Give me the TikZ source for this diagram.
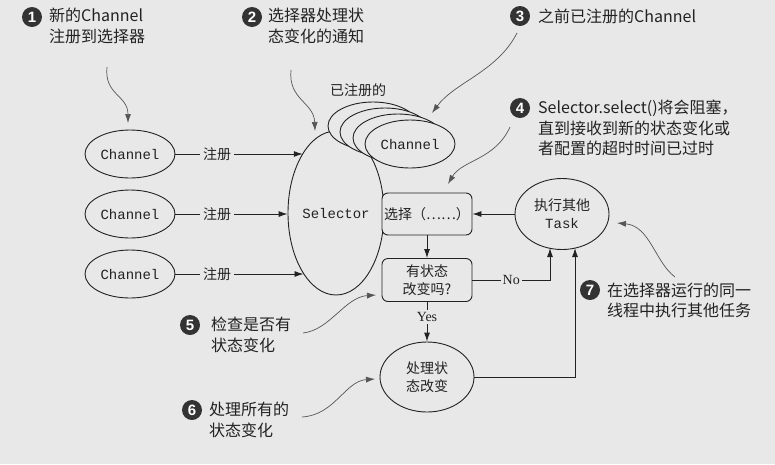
\documentclass[tikz,border=0pt]{standalone}
\usepackage{fontspec}
\setmainfont{Liberation Serif}
\newfontfamily\cjk{Noto Sans CJK SC}
\newfontfamily\mono{Liberation Mono}
\newfontfamily\bsans{Liberation Sans}
\usetikzlibrary{shapes.geometric,arrows.meta}
\definecolor{bg}{HTML}{E8E8E8}
\definecolor{ink}{HTML}{222222}
\definecolor{annot}{HTML}{555555}
\definecolor{bullet}{HTML}{333333}
\begin{document}
\begin{tikzpicture}[x=1pt,y=-1pt,
  line/.style={draw=ink,line width=0.9pt},
  arr/.style={line,-{Latex[length=9pt,width=6pt]}},
  curvearr/.style={draw=annot,line width=0.7pt,-{Latex[length=9pt,width=6pt]}},
  chan/.style={ellipse,draw=ink,line width=0.9pt,fill=bg,minimum width=90,minimum height=48,inner sep=0pt,text=ink,font=\mono\fontsize{14}{16}\selectfont},
  regl/.style={fill=bg,inner sep=3pt,text=ink,font=\cjk\fontsize{14}{16}\selectfont},
  box/.style={draw=ink,line width=0.9pt,fill=bg,rounded corners=6pt,minimum width=90,inner sep=0pt,text=ink,align=center},
  oval/.style={ellipse,draw=ink,line width=0.9pt,fill=bg,minimum width=94,minimum height=71,inner sep=0pt,text=ink,align=center},
  bul/.style={circle,fill=bullet,text=white,minimum size=20,inner sep=0pt,font=\bsans\bfseries\fontsize{15}{15}\selectfont},
  note/.style={anchor=west,align=left,inner sep=0pt,text=ink,font=\cjk\fontsize{16}{20.5}\selectfont},
  yn/.style={fill=bg,inner sep=2pt,text=ink,font=\fontsize{14}{16}\selectfont}
]
\path[fill=bg] (0,0) rectangle (775,464);
\useasboundingbox (0,0) rectangle (775,464);

% Selector
\node[ellipse,draw=ink,line width=0.9pt,minimum width=96,minimum height=164,inner sep=0pt,text=ink,font=\mono\fontsize{14}{16}\selectfont] (sel) at (336,213) {Selector};

% registered stack
\node[chan] (rg1) at (373,126) {};
\node[chan] (rg2) at (385,132) {};
\node[chan] (rg3) at (398,138) {};
\node[chan] (rg4) at (410,144) {Channel};
\node[text=ink,font=\cjk\fontsize{14}{16}\selectfont] (reglab) at (358,90) {已注册的};

% channels
\node[chan] (c1) at (130,154) {Channel};
\node[chan] (c2) at (130,214) {Channel};
\node[chan] (c3) at (130,274) {Channel};
\node[regl] (r1) at (217,154) {注册};
\node[regl] (r2) at (217,214) {注册};
\node[regl] (r3) at (217,274) {注册};
\draw[line] (c1) -- (r1);
\draw[line] (c2) -- (r2);
\draw[line] (c3) -- (r3);
\draw[arr] (r1) -- (r1 -| sel.119.4);
\draw[arr] (r2) -- (r2 -| sel.west);
\draw[arr] (r3) -- (r3 -| sel.242.2);

% flow
\node[box,minimum height=42,font=\cjk\fontsize{14}{16}\selectfont] (selb) at (427,214) {选择（……）};
\node[box,minimum height=43,font=\cjk\fontsize{14}{17.5}\selectfont] (chk) at (427,280) {有状态\\改变吗?};
\node[oval,font=\cjk\fontsize{14}{18}\selectfont] (task) at (562,214) {执行其他\\{\mono Task}};
\node[oval,minimum height=70,font=\cjk\fontsize{14}{18}\selectfont] (proc) at (427,377) {处理状\\态改变};
\coordinate (tk1) at (550,248);
\coordinate (tk2) at (575,248);

\draw[arr] (task) -- (selb);
\draw[arr] (selb) -- (chk);
\draw[arr] (chk.east) -| node[yn,pos=0.25] {No} (tk1);
\draw[arr] (chk) -- node[yn,pos=0.38] {Yes} (proc);
\draw[arr] (proc.east) -| (tk2);

% annotations
\node[bul] (b1) at (32,17) {1};
\node[note] (n1) at (49,26) {新的Channel\\注册到选择器};
\node[bul] (b2) at (252,17) {2};
\node[note] (n2) at (268,26) {选择器处理状\\态变化的通知};
\node[bul] (b3) at (520,16) {3};
\node[note] (n3) at (538,16) {之前已注册的Channel};
\node[bul] (b4) at (520,108) {4};
\node[note] (n4) at (538,128) {Selector.select()将会阻塞，\\直到接收到新的状态变化或\\者配置的超时时间已过时};
\node[bul] (b5) at (190,325) {5};
\node[note] (n5) at (211,335) {检查是否有\\状态变化};
\node[bul] (b6) at (192,410) {6};
\node[note] (n6) at (209,420) {处理所有的\\状态变化};
\node[bul] (b7) at (590,290) {7};
\node[note] (n7) at (607,300.5) {在选择器运行的同一\\线程中执行其他任务};

\coordinate (a1s) at (107,67);  \coordinate (a1e) at (128,123);
\coordinate (a2s) at (291,70);  \coordinate (a2e) at (315,131);
\coordinate (a3s) at (517,33);  \coordinate (a3e) at (432,113);
\coordinate (a4s) at (510,127); \coordinate (a4e) at (448,184);
\coordinate (a5s) at (303,333); \coordinate (a5e) at (376,295);
\coordinate (a6s) at (302,417); \coordinate (a6e) at (375,379);
\coordinate (a7s) at (675,277); \coordinate (a7e) at (617,223);
\draw[curvearr] (a1s) .. controls (104,95) and (128,95) .. (a1e);
\draw[curvearr] (a2s) .. controls (288,100) and (314,102) .. (a2e);
\draw[curvearr] (a3s) .. controls (497,72) and (455,82) .. (a3e);
\draw[curvearr] (a4s) .. controls (495,160) and (462,160) .. (a4e);
\draw[curvearr] (a5s) .. controls (330,330) and (345,297) .. (a5e);
\draw[curvearr] (a6s) .. controls (335,415) and (345,381) .. (a6e);
\draw[curvearr] (a7s) .. controls (655,262) and (650,226) .. (a7e);
\end{tikzpicture}
\end{document}
